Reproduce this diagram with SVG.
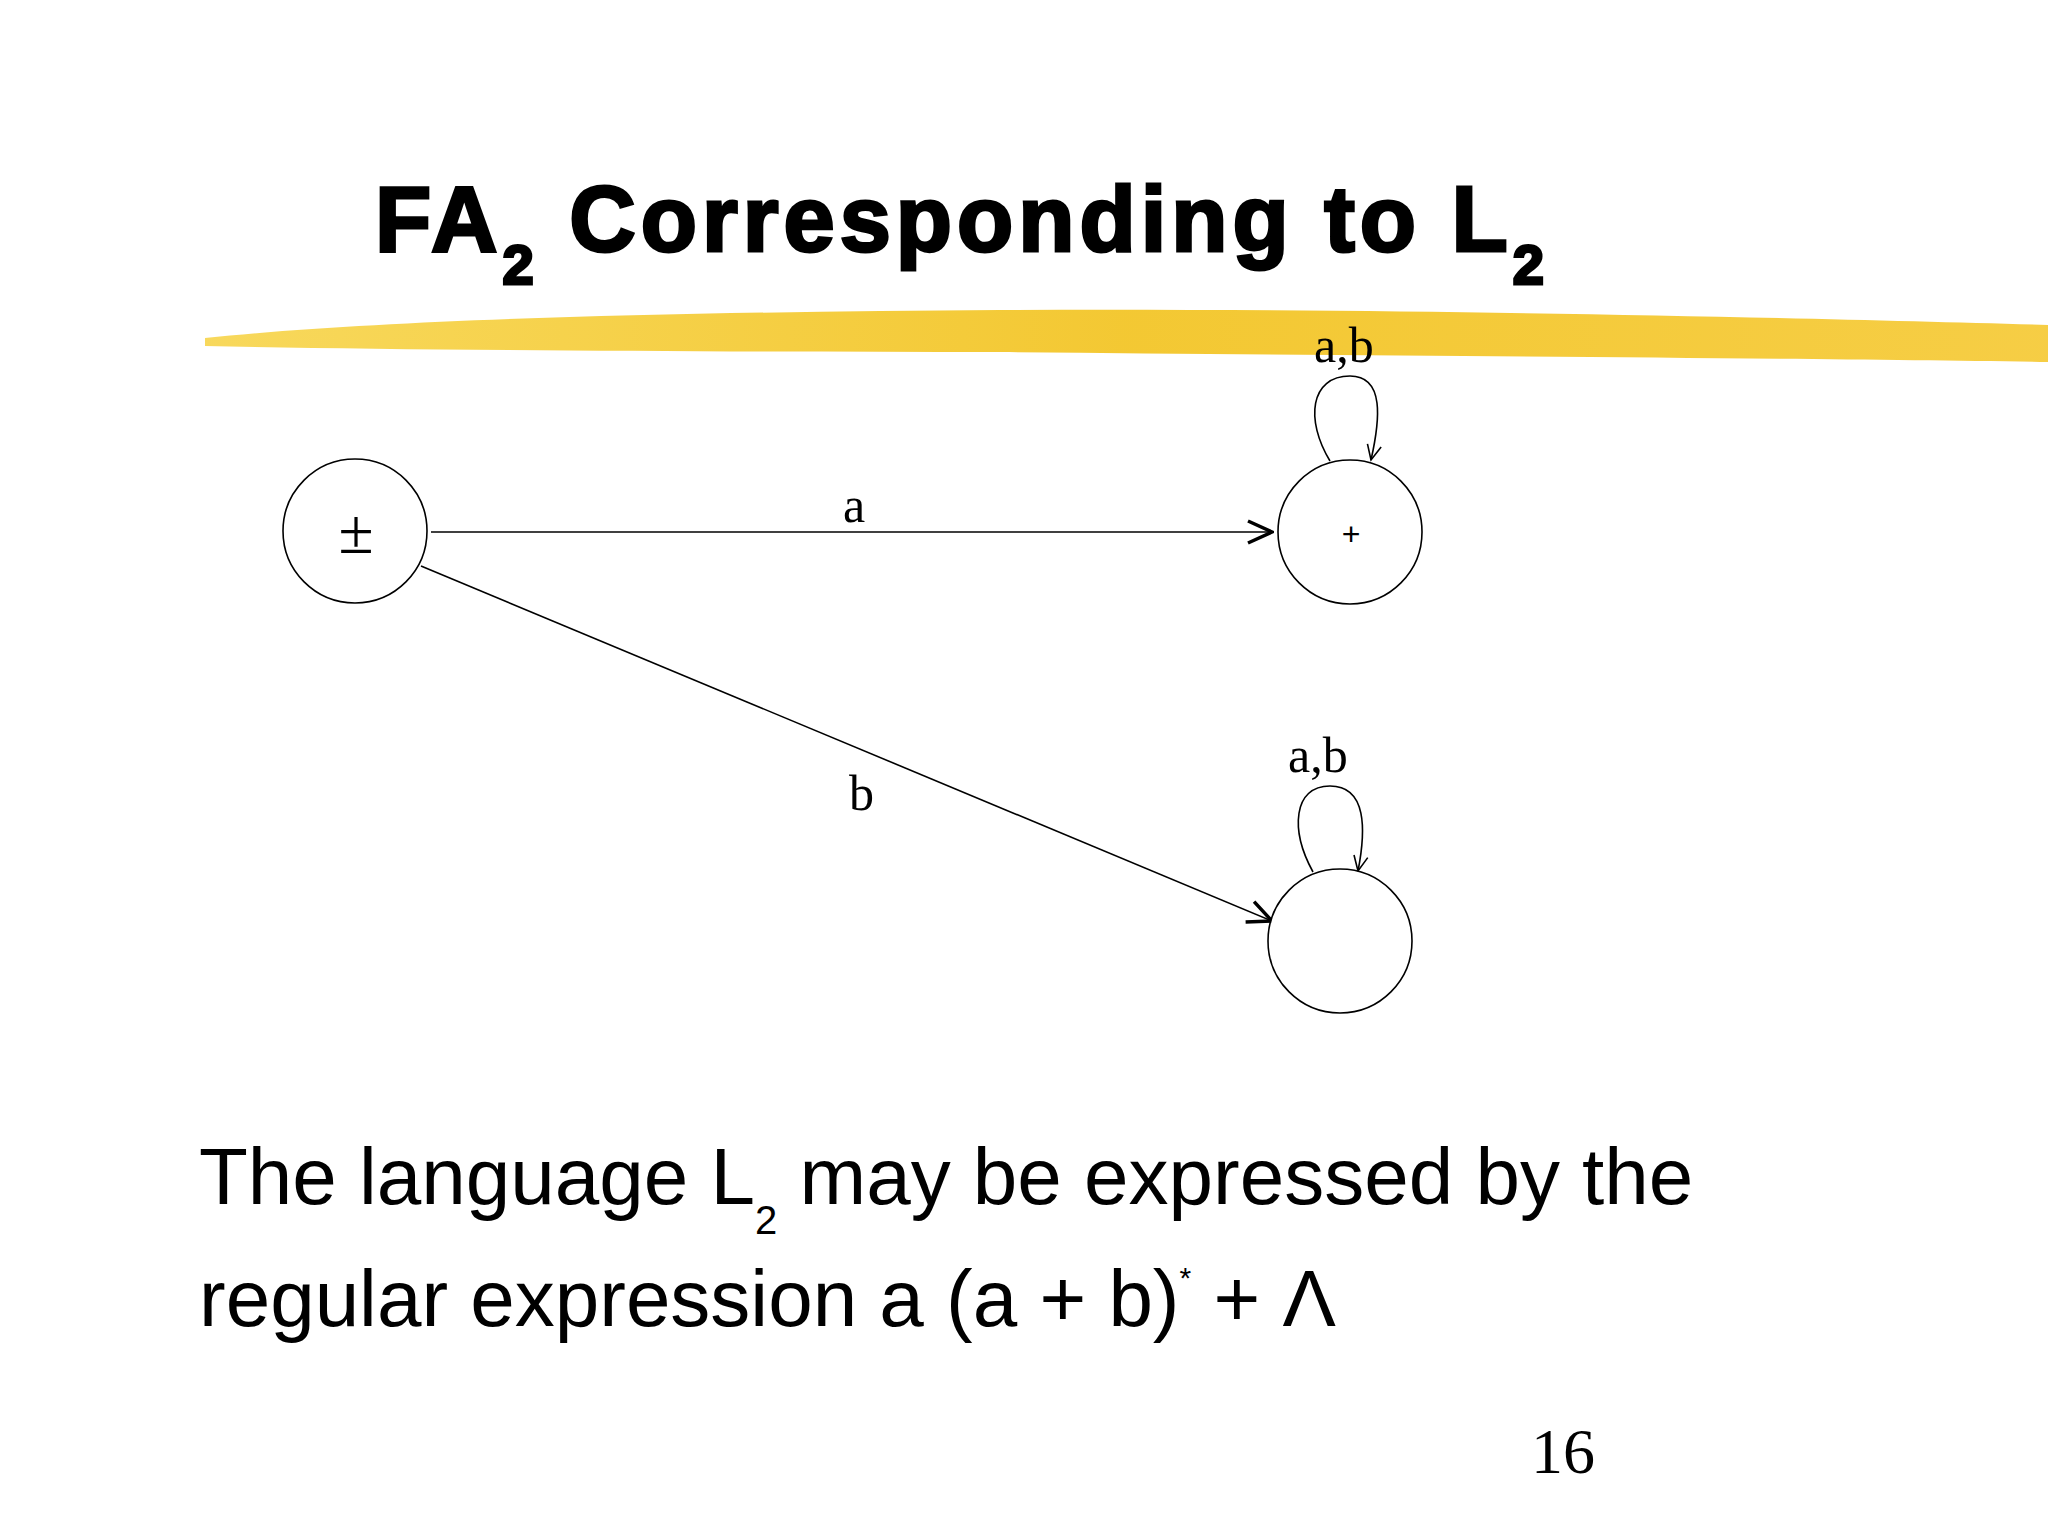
<svg xmlns="http://www.w3.org/2000/svg" width="2048" height="1536" viewBox="0 0 2048 1536">
<defs>
<marker id="ah" markerWidth="30" markerHeight="30" refX="28" refY="15" orient="auto" markerUnits="userSpaceOnUse"><path d="M4,4 L28,15 L4,26" fill="none" stroke="#000" stroke-width="3.5"/></marker>
<marker id="sh" markerWidth="22" markerHeight="22" refX="19" refY="11" orient="auto" markerUnits="userSpaceOnUse"><path d="M4,4 L19,11 L4,18" fill="none" stroke="#000" stroke-width="1.6"/></marker>
<linearGradient id="yg" x1="0" x2="1"><stop offset="0" stop-color="#f7d44a"/><stop offset="0.5" stop-color="#f2c21c"/><stop offset="1" stop-color="#f5c830"/></linearGradient>
</defs>
<style>
.st{fill:#fff;stroke:#000;stroke-width:1.6}
.ln{fill:none;stroke:#000;stroke-width:1.6}
.lb{font-family:"Liberation Serif",serif;font-size:50px;fill:#000}
.bd{font-family:"Liberation Sans",Arial,sans-serif;font-size:80px;fill:#000}
</style>
<rect width="2048" height="1536" fill="#fff"/>
<path d="M205,338 C400,318 700,312 1000,310 C1400,308 1800,318 2048,325 L2048,362 C1800,358 1400,356 1000,352 C700,352 400,350 205,346 Z" fill="url(#yg)" opacity="0.9"/>
<text x="375" y="251" font-family="Liberation Sans,Arial,sans-serif" font-weight="bold" font-size="92" stroke="#000" stroke-width="3" letter-spacing="5">FA<tspan font-size="56" dy="33">2</tspan><tspan dy="-33"> Corresponding to L</tspan><tspan font-size="56" dy="33">2</tspan></text>
<g id="connectors">
<line class="ln" x1="431" y1="532" x2="1272" y2="532" marker-end="url(#ah)"/>
<line class="ln" x1="421" y1="566" x2="1272" y2="921" marker-end="url(#ah)"/>
<path class="ln" d="M1330,461 C1305,420 1310,376 1350,376 C1385,376 1380,420 1371,460" marker-end="url(#sh)"/>
<path class="ln" d="M1313,872 C1290,830 1293,786 1330,786 C1367,786 1366,830 1358,871" marker-end="url(#sh)"/>
<text class="lb" x="843" y="522">a</text>
<text class="lb" x="849" y="810">b</text>
<text class="lb" x="1314" y="362">a,b</text>
<text class="lb" x="1288" y="772">a,b</text>
</g>
<g id="s0"><circle class="st" cx="355" cy="531" r="72"/><text x="356" y="553" text-anchor="middle" font-family="Liberation Serif,serif" font-size="64">±</text></g>
<g id="s1"><circle class="st" cx="1350" cy="532" r="72"/><text x="1351" y="545" text-anchor="middle" font-family="Liberation Sans,sans-serif" font-size="32">+</text></g>
<g id="s2"><circle class="st" cx="1340" cy="941" r="72"/></g>
<text class="bd" x="199" y="1204">The language L<tspan font-size="40" dy="30">2</tspan><tspan dy="-30"> may be  expressed by the</tspan></text>
<text class="bd" x="199" y="1326">regular expression a (a + b)<tspan font-size="30" dy="-38">*</tspan><tspan dy="38"> + Λ</tspan></text>
<text x="1563" y="1473" text-anchor="middle" font-family="Liberation Serif,serif" font-size="64">16</text>
</svg>
